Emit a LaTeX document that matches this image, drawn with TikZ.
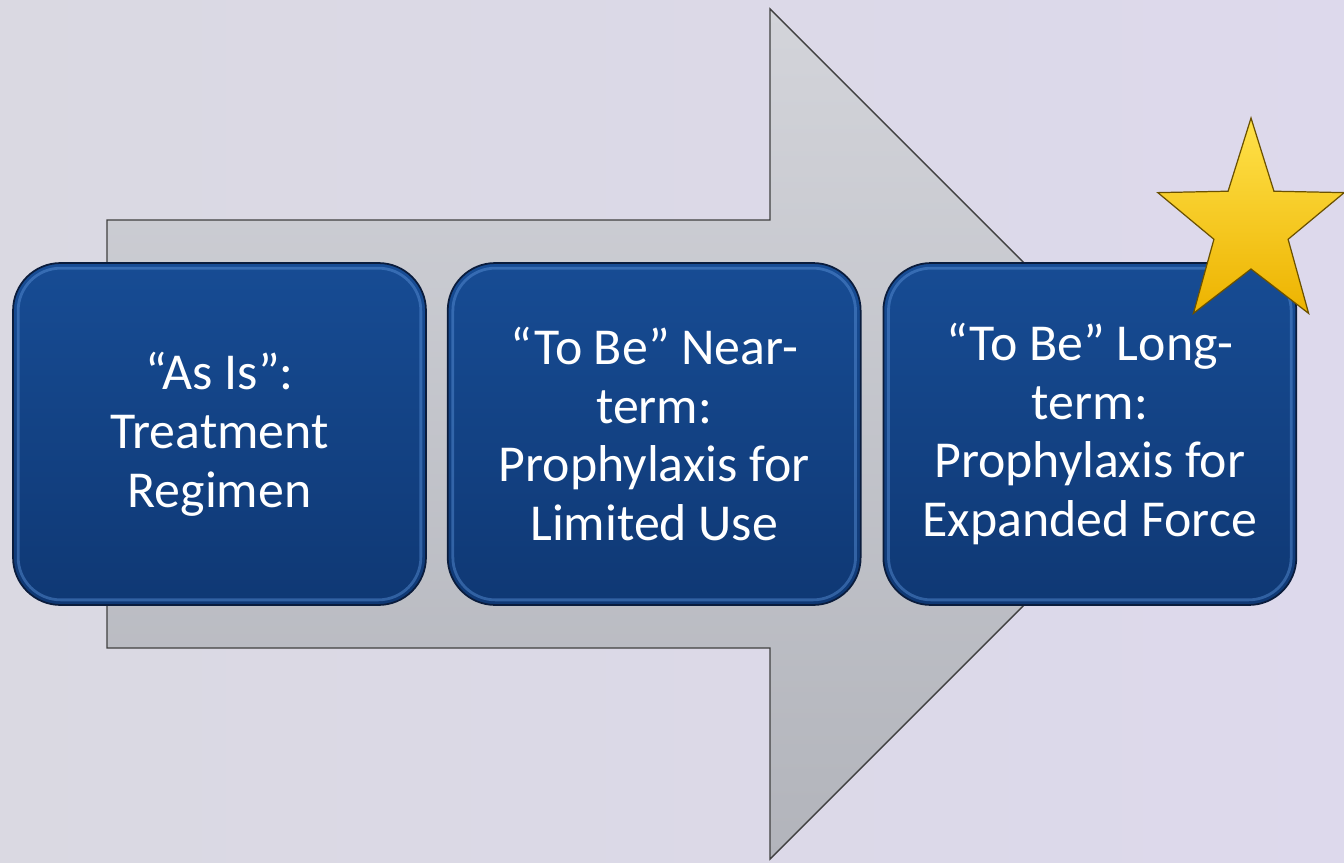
\documentclass[tikz,border=0pt]{standalone}
\usepackage{fontspec}
\setmainfont{Carlito}
\usetikzlibrary{positioning}

\definecolor{backleft}{HTML}{DAD9E2}
\definecolor{backright}{HTML}{DDD9EC}
\definecolor{arrowtop}{HTML}{D3D4DA}
\definecolor{arrowbot}{HTML}{B2B4BB}
\definecolor{stagetop}{HTML}{174C94}
\definecolor{stagebot}{HTML}{0F3874}
\definecolor{stageedge}{HTML}{0A1C3C}
\definecolor{stagelight}{HTML}{5C93DA}
\definecolor{goldtop}{HTML}{FFE24A}
\definecolor{goldbot}{HTML}{EDB300}

\begin{document}
\begin{tikzpicture}[x=0.02cm,y=-0.02cm]
\tikzset{stagebox/.style={rounded corners=0.95cm, minimum width=8.26cm, minimum height=6.84cm,
    top color=stagetop, bottom color=stagebot, draw=stageedge, line width=1pt,
    text=white, align=center, font=\fontsize{29.5}{33.5}\selectfont},
  bevel/.style={rounded corners=0.85cm, draw=stagelight, line width=1.6pt, opacity=0.45},
  bigarrow/.style={top color=arrowtop, bottom color=arrowbot, draw=black!75, line width=0.8pt},
  goldstar/.style={top color=goldtop, bottom color=goldbot, draw=black!55!goldbot, line width=0.7pt}}
% backdrop
\shade[left color=backleft, right color=backright] (0,0) rectangle (1344,862);
\useasboundingbox (0,0) rectangle (1344,862);
% the big arrow behind the stages
\draw[bigarrow] (107,220) -- (770,220) -- (770,9) -- (1195,434) -- (770,859) -- (770,648) -- (107,648) -- cycle;
% stages
\node[stagebox] (asis) at (219.5,434) {“As Is”:\\Treatment\\Regimen};
\node[stagebox, right=0.4cm of asis] (near) {“To Be” Near-\\term:\\Prophylaxis for\\Limited Use};
\node[stagebox, right=0.42cm of near] (long) {“To Be” Long-\\term:\\Prophylaxis for\\Expanded Force};
\foreach \n in {asis,near,long}
  \draw[bevel] ([xshift=0.12cm,yshift=-0.12cm]\n.north west) rectangle ([xshift=-0.12cm,yshift=0.12cm]\n.south east);
% star on the last stage
\draw[goldstar, shift={(1251,226)}] (270:98 and 108) -- (306:39 and 43) -- (342:98 and 108)
  -- (18:39 and 43) -- (54:98 and 108) -- (90:39 and 43) -- (126:98 and 108)
  -- (162:39 and 43) -- (198:98 and 108) -- (234:39 and 43) -- cycle;
\end{tikzpicture}
\end{document}
